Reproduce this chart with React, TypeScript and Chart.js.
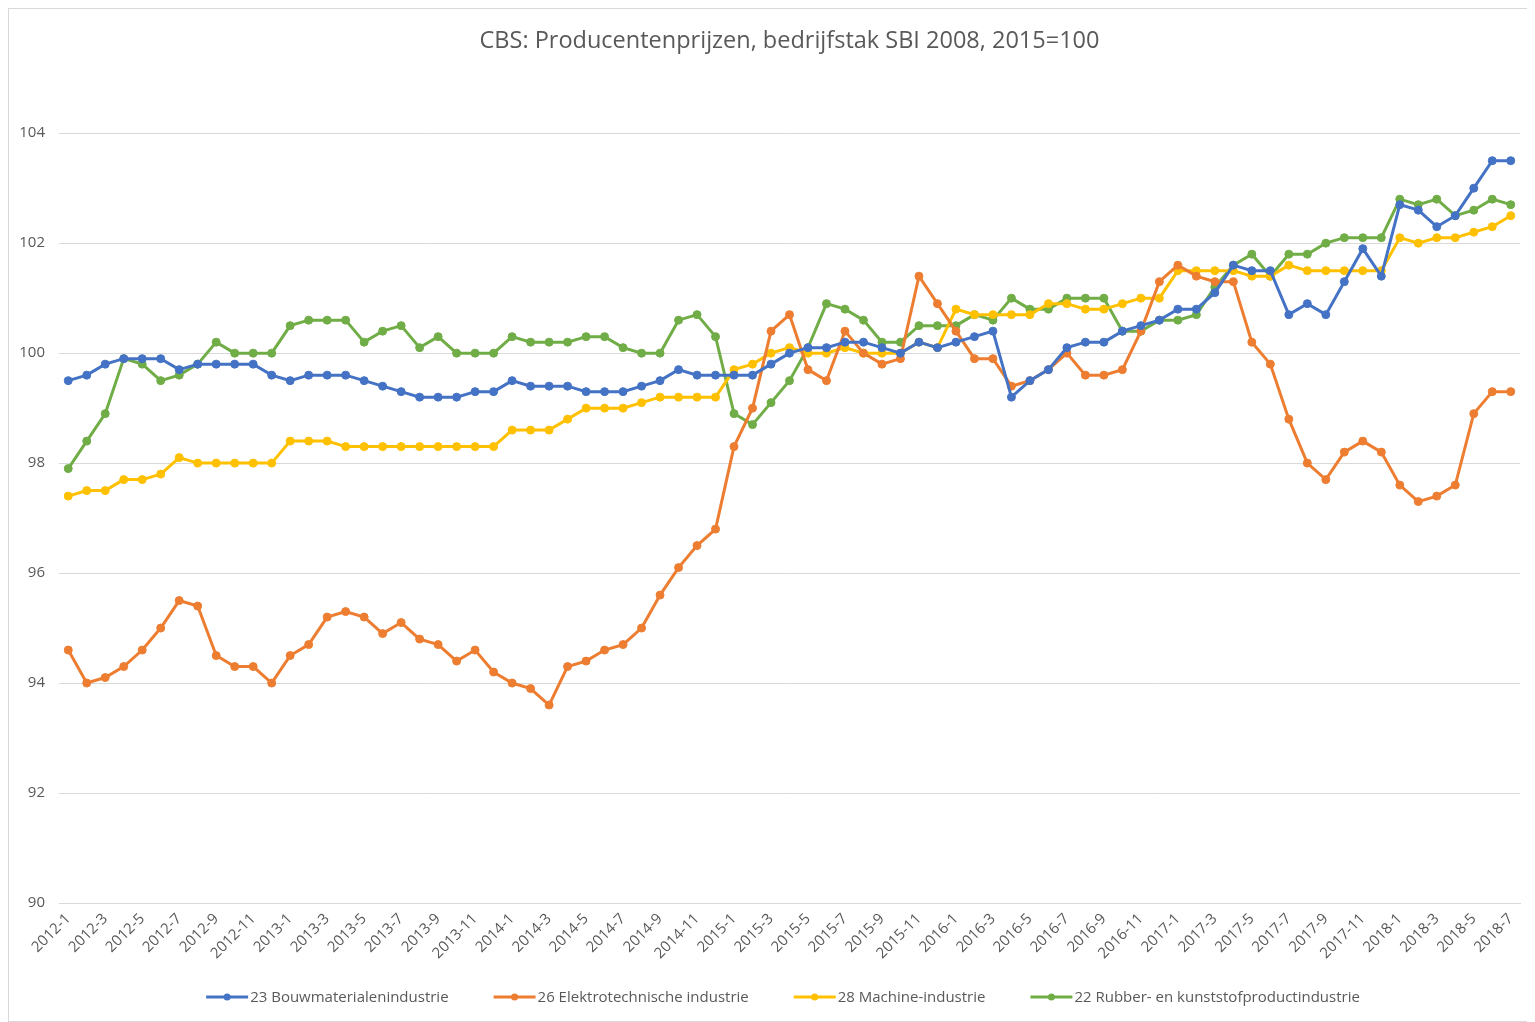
import React, { useEffect, useRef } from "react";
import { Chart, registerables } from "chart.js";

Chart.register(...registerables);

const months: string[] = [
  "2012-1", "2012-2", "2012-3", "2012-4", "2012-5", "2012-6", "2012-7", "2012-8", "2012-9", "2012-10", "2012-11", "2012-12",
  "2013-1", "2013-2", "2013-3", "2013-4", "2013-5", "2013-6", "2013-7", "2013-8", "2013-9", "2013-10", "2013-11", "2013-12",
  "2014-1", "2014-2", "2014-3", "2014-4", "2014-5", "2014-6", "2014-7", "2014-8", "2014-9", "2014-10", "2014-11", "2014-12",
  "2015-1", "2015-2", "2015-3", "2015-4", "2015-5", "2015-6", "2015-7", "2015-8", "2015-9", "2015-10", "2015-11", "2015-12",
  "2016-1", "2016-2", "2016-3", "2016-4", "2016-5", "2016-6", "2016-7", "2016-8", "2016-9", "2016-10", "2016-11", "2016-12",
  "2017-1", "2017-2", "2017-3", "2017-4", "2017-5", "2017-6", "2017-7", "2017-8", "2017-9", "2017-10", "2017-11", "2017-12",
  "2018-1", "2018-2", "2018-3", "2018-4", "2018-5", "2018-6", "2018-7",
];

const bouwmaterialen: number[] = [
  99.5, 99.6, 99.8, 99.9, 99.9, 99.9, 99.7, 99.8, 99.8, 99.8, 99.8, 99.6,
  99.5, 99.6, 99.6, 99.6, 99.5, 99.4, 99.3, 99.2, 99.2, 99.2, 99.3, 99.3,
  99.5, 99.4, 99.4, 99.4, 99.3, 99.3, 99.3, 99.4, 99.5, 99.7, 99.6, 99.6,
  99.6, 99.6, 99.8, 100.0, 100.1, 100.1, 100.2, 100.2, 100.1, 100.0, 100.2, 100.1,
  100.2, 100.3, 100.4, 99.2, 99.5, 99.7, 100.1, 100.2, 100.2, 100.4, 100.5, 100.6,
  100.8, 100.8, 101.1, 101.6, 101.5, 101.5, 100.7, 100.9, 100.7, 101.3, 101.9, 101.4,
  102.7, 102.6, 102.3, 102.5, 103.0, 103.5, 103.5,
];

const elektrotechnisch: number[] = [
  94.6, 94.0, 94.1, 94.3, 94.6, 95.0, 95.5, 95.4, 94.5, 94.3, 94.3, 94.0,
  94.5, 94.7, 95.2, 95.3, 95.2, 94.9, 95.1, 94.8, 94.7, 94.4, 94.6, 94.2,
  94.0, 93.9, 93.6, 94.3, 94.4, 94.6, 94.7, 95.0, 95.6, 96.1, 96.5, 96.8,
  98.3, 99.0, 100.4, 100.7, 99.7, 99.5, 100.4, 100.0, 99.8, 99.9, 101.4, 100.9,
  100.4, 99.9, 99.9, 99.4, 99.5, 99.7, 100.0, 99.6, 99.6, 99.7, 100.4, 101.3,
  101.6, 101.4, 101.3, 101.3, 100.2, 99.8, 98.8, 98.0, 97.7, 98.2, 98.4, 98.2,
  97.6, 97.3, 97.4, 97.6, 98.9, 99.3, 99.3,
];

const machine: number[] = [
  97.4, 97.5, 97.5, 97.7, 97.7, 97.8, 98.1, 98.0, 98.0, 98.0, 98.0, 98.0,
  98.4, 98.4, 98.4, 98.3, 98.3, 98.3, 98.3, 98.3, 98.3, 98.3, 98.3, 98.3,
  98.6, 98.6, 98.6, 98.8, 99.0, 99.0, 99.0, 99.1, 99.2, 99.2, 99.2, 99.2,
  99.7, 99.8, 100.0, 100.1, 100.0, 100.0, 100.1, 100.0, 100.0, 100.0, 100.2, 100.1,
  100.8, 100.7, 100.7, 100.7, 100.7, 100.9, 100.9, 100.8, 100.8, 100.9, 101.0, 101.0,
  101.5, 101.5, 101.5, 101.5, 101.4, 101.4, 101.6, 101.5, 101.5, 101.5, 101.5, 101.5,
  102.1, 102.0, 102.1, 102.1, 102.2, 102.3, 102.5,
];

const rubber: number[] = [
  97.9, 98.4, 98.9, 99.9, 99.8, 99.5, 99.6, 99.8, 100.2, 100.0, 100.0, 100.0,
  100.5, 100.6, 100.6, 100.6, 100.2, 100.4, 100.5, 100.1, 100.3, 100.0, 100.0, 100.0,
  100.3, 100.2, 100.2, 100.2, 100.3, 100.3, 100.1, 100.0, 100.0, 100.6, 100.7, 100.3,
  98.9, 98.7, 99.1, 99.5, 100.1, 100.9, 100.8, 100.6, 100.2, 100.2, 100.5, 100.5,
  100.5, 100.7, 100.6, 101.0, 100.8, 100.8, 101.0, 101.0, 101.0, 100.4, 100.4, 100.6,
  100.6, 100.7, 101.2, 101.6, 101.8, 101.4, 101.8, 101.8, 102.0, 102.1, 102.1, 102.1,
  102.8, 102.7, 102.8, 102.5, 102.6, 102.8, 102.7,
];

const seriesLabels: string[] = [
  "23 Bouwmaterialenindustrie",
  "26 Elektrotechnische industrie",
  "28 Machine-industrie",
  "22 Rubber- en kunststofproductindustrie",
];

const seriesColors: string[] = ["#4472C4", "#ED7D31", "#FFC000", "#70AD47"];

const titleText = "CBS: Producentenprijzen, bedrijfstak SBI 2008, 2015=100";
const yMin = 90;
const yMax = 104;
const yStep = 2;

const FONT = '"Open Sans", "Liberation Sans", sans-serif';
const TEXT_COLOR = "#595959";
const GRID_COLOR = "#D9D9D9";

const excelLegend = {
  id: "excelLegend",
  afterDraw(chart: any) {
    const ctx = chart.ctx as CanvasRenderingContext2D;
    const y = 988;
    const lineW = 42;
    const gapText = 2;
    const gapItem = 45;
    ctx.save();
    ctx.font = `15px ${FONT}`;
    const items = chart.data.datasets.map((ds: any) => ({
      label: ds.label as string,
      color: ds.borderColor as string,
      w: lineW + gapText + ctx.measureText(ds.label).width,
    }));
    const total =
      items.reduce((s: number, it: any) => s + it.w, 0) + gapItem * (items.length - 1);
    let x = 774 - total / 2;
    for (const it of items) {
      ctx.strokeStyle = it.color;
      ctx.lineWidth = 3;
      ctx.beginPath();
      ctx.moveTo(x, y);
      ctx.lineTo(x + lineW, y);
      ctx.stroke();
      ctx.fillStyle = it.color;
      ctx.beginPath();
      ctx.arc(x + lineW / 2, y, 3.5, 0, Math.PI * 2);
      ctx.fill();
      ctx.fillStyle = TEXT_COLOR;
      ctx.textBaseline = "middle";
      ctx.textAlign = "left";
      ctx.fillText(it.label, x + lineW + gapText, y + 1);
      x += it.w + gapItem;
    }
    ctx.restore();
  },
};

export default function App() {
  const canvasRef = useRef<HTMLCanvasElement | null>(null);

  useEffect(() => {
    if (!canvasRef.current) return;
    const seriesData = [bouwmaterialen, elektrotechnisch, machine, rubber];
    const chart = new Chart(canvasRef.current, {
      type: "line",
      data: {
        labels: months,
        datasets: seriesData.map((d, i) => ({
          label: seriesLabels[i],
          data: d,
          borderColor: seriesColors[i],
          backgroundColor: seriesColors[i],
          pointBackgroundColor: seriesColors[i],
          pointBorderColor: seriesColors[i],
          borderWidth: 3,
          pointRadius: 4,
          pointBorderWidth: 1,
          tension: 0,
          fill: false,
        })),
      },
      options: {
        animation: false,
        responsive: true,
        maintainAspectRatio: false,
        layout: { padding: { left: 0, right: 14, top: 0, bottom: 58 } },
        plugins: {
          legend: { display: false },
          tooltip: { enabled: false },
          title: {
            display: true,
            text: titleText,
            color: TEXT_COLOR,
            fullSize: false,
            font: { family: FONT, size: 23.5, weight: "normal", lineHeight: 1.2 },
            padding: { top: 18, bottom: 78 },
          },
        },
        scales: {
          x: {
            type: "category",
            offset: true,
            grid: { display: false, drawTicks: false },
            border: { display: true, color: GRID_COLOR },
            ticks: {
              autoSkip: false,
              minRotation: 45,
              maxRotation: 45,
              padding: 7,
              color: TEXT_COLOR,
              font: { family: FONT, size: 15 },
              callback: (_v: any, idx: number) => (idx % 2 === 0 ? months[idx] : ""),
            },
            afterFit: (scale: any) => {
              scale.height = 60;
            },
          },
          y: {
            min: yMin,
            max: yMax,
            grid: { color: GRID_COLOR, lineWidth: 1, drawTicks: false },
            border: { display: false },
            ticks: {
              stepSize: yStep,
              padding: 14,
              color: TEXT_COLOR,
              font: { family: FONT, size: 15 },
            },
            afterFit: (scale: any) => {
              scale.width = 50;
            },
          },
        },
      },
      plugins: [excelLegend],
    });
    return () => chart.destroy();
  }, []);

  return (
    <div
      style={{
        position: "relative",
        width: 1527,
        height: 1014,
        border: `1px solid ${GRID_COLOR}`,
        boxSizing: "border-box",
        background: "#fff",
      }}
    >
      <canvas ref={canvasRef} />
    </div>
  );
}
